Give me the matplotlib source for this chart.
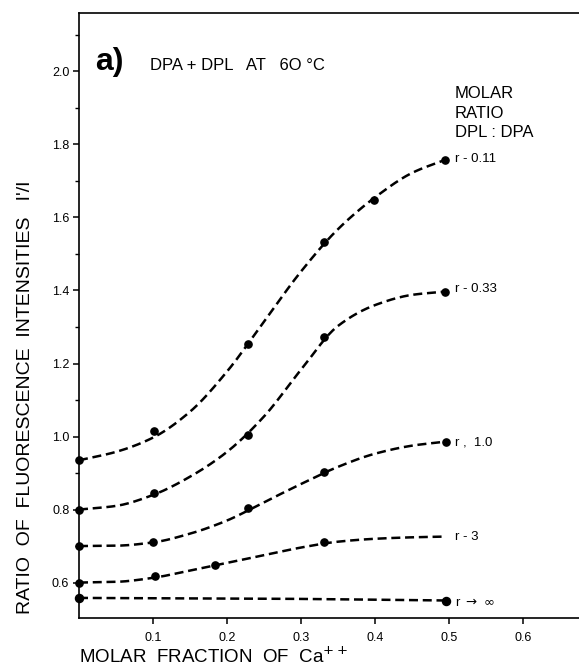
import numpy as np
import matplotlib
matplotlib.use("Agg")
import matplotlib.pyplot as plt
from matplotlib.ticker import MultipleLocator, FixedLocator

## Measured points (molar fraction of Ca++, fluorescence ratio I'/I)
x_r011 = [0.0, 0.101, 0.229, 0.331, 0.399, 0.494]
y_r011 = [0.935, 1.016, 1.253, 1.533, 1.648, 1.758]
x_r033 = [0.0, 0.102, 0.228, 0.331, 0.494]
y_r033 = [0.800, 0.846, 1.005, 1.272, 1.397]
x_r1 = [0.0, 0.100, 0.229, 0.331, 0.496]
y_r1 = [0.700, 0.710, 0.804, 0.903, 0.986]
x_r3 = [0.0, 0.103, 0.184, 0.331]
y_r3 = [0.600, 0.619, 0.647, 0.710]
x_rinf = [0.0, 0.496]
y_rinf = [0.558, 0.550]

## Hand-drawn fit curves, read at regular steps along the dashed lines
curve_x = [0.0, 0.05, 0.10, 0.15, 0.20, 0.25, 0.30, 0.35, 0.40, 0.45, 0.495]
curve_r011 = [0.935, 0.958, 0.997, 1.068, 1.178, 1.315, 1.452, 1.568, 1.655, 1.722, 1.758]
curve_r033 = [0.800, 0.810, 0.840, 0.890, 0.958, 1.055, 1.183, 1.303, 1.360, 1.388, 1.397]
curve_r1 = [0.700, 0.701, 0.710, 0.734, 0.770, 0.820, 0.870, 0.917, 0.953, 0.975, 0.986]
curve_r3 = [0.600, 0.602, 0.613, 0.633, 0.654, 0.675, 0.696, 0.712, 0.720, 0.724, 0.726]
curve_rinf_x = [0.0, 0.25, 0.495]
curve_rinf = [0.558, 0.556, 0.551]

series_labels = ["r - 0.11", "r - 0.33", "r ,  1.0", "r - 3", r"r $\rightarrow$ $\infty$"]
label_y = [1.76, 1.405, 0.985, 0.725, 0.545]

x_ticks = [0.1, 0.2, 0.3, 0.4, 0.5, 0.6]
y_ticks = [0.6, 0.8, 1.0, 1.2, 1.4, 1.6, 1.8, 2.0]


def pchip(xk, yk, n=300):
    ## Monotone cubic Hermite curve through the knots (Fritsch-Carlson)
    xk = np.asarray(xk, float)
    yk = np.asarray(yk, float)
    h = np.diff(xk)
    d = np.diff(yk) / h
    m = np.zeros_like(yk)
    m[0], m[-1] = d[0], d[-1]
    for i in range(1, len(xk) - 1):
        if d[i - 1] * d[i] > 0:
            w1 = 2 * h[i] + h[i - 1]
            w2 = h[i] + 2 * h[i - 1]
            m[i] = (w1 + w2) / (w1 / d[i - 1] + w2 / d[i])
    xs = np.linspace(xk[0], xk[-1], n)
    idx = np.clip(np.searchsorted(xk, xs) - 1, 0, len(h) - 1)
    t = (xs - xk[idx]) / h[idx]
    h00 = 2 * t**3 - 3 * t**2 + 1
    h10 = t**3 - 2 * t**2 + t
    h01 = -2 * t**3 + 3 * t**2
    h11 = t**3 - t**2
    ys = h00 * yk[idx] + h10 * h[idx] * m[idx] + h01 * yk[idx + 1] + h11 * h[idx] * m[idx + 1]
    return xs, ys


plt.rcParams['font.family'] = ['Liberation Sans', 'DejaVu Sans']

fig = plt.figure(figsize=(5.79, 6.69), dpi=100)
ax = fig.add_axes([79 / 579, 1 - 618 / 669, 1 - 79 / 579, (618 - 13) / 669])

dash = (0, (3.6, 1.9))
lw = 1.8
for cx, cy in [(curve_x, curve_r011), (curve_x, curve_r033), (curve_x, curve_r1),
               (curve_x, curve_r3), (curve_rinf_x, curve_rinf)]:
    xs, ys = pchip(cx, cy)
    ax.plot(xs, ys, color='black', lw=lw, linestyle=dash, clip_on=False)

for px, py in [(x_r011, y_r011), (x_r033, y_r033), (x_r1, y_r1), (x_r3, y_r3)]:
    ax.plot(px, py, 'o', color='black', ms=5.2, clip_on=False, zorder=5)
ax.plot(x_rinf, y_rinf, 'o', color='black', ms=5.8, clip_on=False, zorder=5)

for txt, ly in zip(series_labels, label_y):
    ax.text(0.508, ly, txt, fontsize=9.5, va='center', ha='left')

ax.set_xlim(0, 500 / 740)
ax.set_ylim(0.503, 2.16)
ax.xaxis.set_major_locator(FixedLocator(x_ticks))
ax.yaxis.set_major_locator(FixedLocator(y_ticks))
ax.yaxis.set_minor_locator(MultipleLocator(0.1))
ax.set_xticklabels([f"{v:.1f}" for v in x_ticks])
ax.set_yticklabels([f"{v:.1f}" for v in y_ticks])
ax.tick_params(axis='both', which='major', direction='out', length=4, width=1.1, labelsize=9)
ax.tick_params(axis='x', pad=6)
ax.tick_params(axis='y', pad=3)
ax.tick_params(axis='y', which='minor', direction='out', length=3, width=1.0)
ax.spines['right'].set_visible(False)
for s in ['left', 'bottom', 'top']:
    ax.spines[s].set_linewidth(1.2)

## Annotations
fig.text(95 / 579, 1 - 62 / 669, "a)", fontsize=23, fontweight='bold', va='center', ha='left')
fig.text(150 / 579, 1 - 65 / 669, "DPA + DPL   AT   6O °C", fontsize=12, va='center', ha='left')
fig.text(455 / 579, 1 - 113 / 669, "MOLAR\nRATIO\nDPL : DPA", fontsize=12, va='center', ha='left',
         linespacing=1.4)

fig.text(79 / 579, 1 - 657 / 669, "MOLAR  FRACTION  OF  Ca$^{++}$", fontsize=13.5, va='center', ha='left')
fig.text(26 / 579, 1 - 397 / 669, "RATIO  OF  FLUORESCENCE  INTENSITIES   I'/I", fontsize=14,
         va='center', ha='center', rotation=90)

fig.savefig("out.png", dpi=100)
